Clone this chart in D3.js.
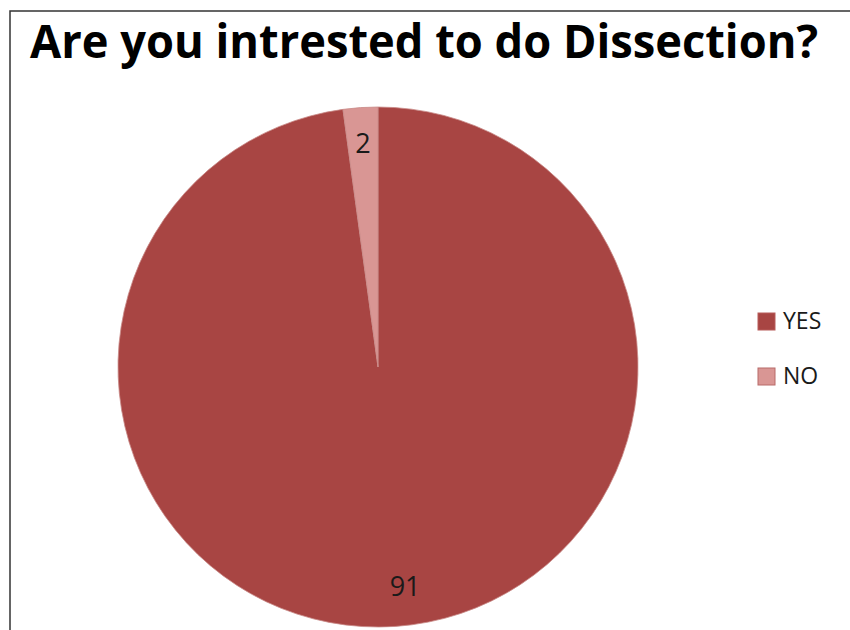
<!DOCTYPE html>
<html>
<head>
<meta charset="utf-8">
<script src="https://cdnjs.cloudflare.com/ajax/libs/d3/7.8.5/d3.min.js"></script>
<style>
  body { margin: 0; background: #fff; }
  svg { display: block; font-family: "Open Sans", "DejaVu Sans", sans-serif; }
</style>
</head>
<body>
<div id="chart"></div>
<script>
// data
var categories = ["YES", "NO"];
var counts = [91, 2];
var colours = ["#a84543", "#d99694"];

var width = 850, height = 630;

var svg = d3.select("#chart")
  .append("svg")
    .attr("width", width)
    .attr("height", height);

// chart frame (top and left edges only show in the picture)
svg.append("path")
  .attr("d", "M10,632 L10,11 L852,11")
  .attr("fill", "none")
  .attr("stroke", "#333")
  .attr("stroke-width", 1.5);

// title
var title = svg.append("text")
  .attr("x", 30)
  .attr("y", 58)
  .attr("font-size", 47)
  .attr("font-weight", "bold")
  .attr("fill", "#000")
  .text("Are you intrested to do Dissection?");
if (title.node().getComputedTextLength() > 788) {
  title.attr("textLength", 788).attr("lengthAdjust", "spacingAndGlyphs");
}

// pie
var cx = 378, cy = 367, r = 260;
var g = svg.append("g")
  .attr("transform", "translate(" + cx + "," + cy + ")");

var data = categories.map(function(c, i) { return {name: c, value: counts[i]}; });

var pie = d3.pie()
  .sort(null)
  .value(function(d) { return d.value; });

var arc = d3.arc().innerRadius(0).outerRadius(r);
var labelArc = d3.arc().innerRadius(224).outerRadius(224);

var colour = d3.scaleOrdinal().domain(categories).range(colours);

var slices = pie(data);

g.selectAll("path.slice")
  .data(slices)
  .enter()
  .append("path")
    .attr("class", "slice")
    .attr("d", arc)
    .attr("fill", function(d) { return colour(d.data.name); })
    .attr("stroke", "#c98a88")
    .attr("stroke-width", 0.8);

g.selectAll("text.lbl")
  .data(slices)
  .enter()
  .append("text")
    .attr("class", "lbl")
    .attr("transform", function(d) {
      var c = labelArc.centroid(d);
      // Excel nudges the big slice's label a little to the right and up
      if (d.data.name == "YES") { c[0] += 12; c[1] -= 4; }
      return "translate(" + c[0] + "," + c[1] + ")";
    })
    .attr("text-anchor", "middle")
    .attr("dy", "0.36em")
    .attr("font-size", 27)
    .attr("fill", "#1a1a1a")
    .text(function(d) { return d.data.value; });

// legend
var legend = svg.selectAll("g.legend")
  .data(categories)
  .enter()
  .append("g")
    .attr("class", "legend")
    .attr("transform", function(d, i) { return "translate(758," + (313 + i * 55) + ")"; });

legend.append("rect")
  .attr("width", 17)
  .attr("height", 17)
  .attr("fill", function(d) { return colour(d); })
  .attr("stroke", function(d, i) { return i == 0 ? "#b85c5a" : "#b86a68"; })
  .attr("stroke-width", 1);

legend.append("text")
  .attr("x", 25)
  .attr("y", 16)
  .attr("font-size", 23)
  .attr("fill", "#1a1a1a")
  .text(function(d) { return d; });
</script>
</body>
</html>
